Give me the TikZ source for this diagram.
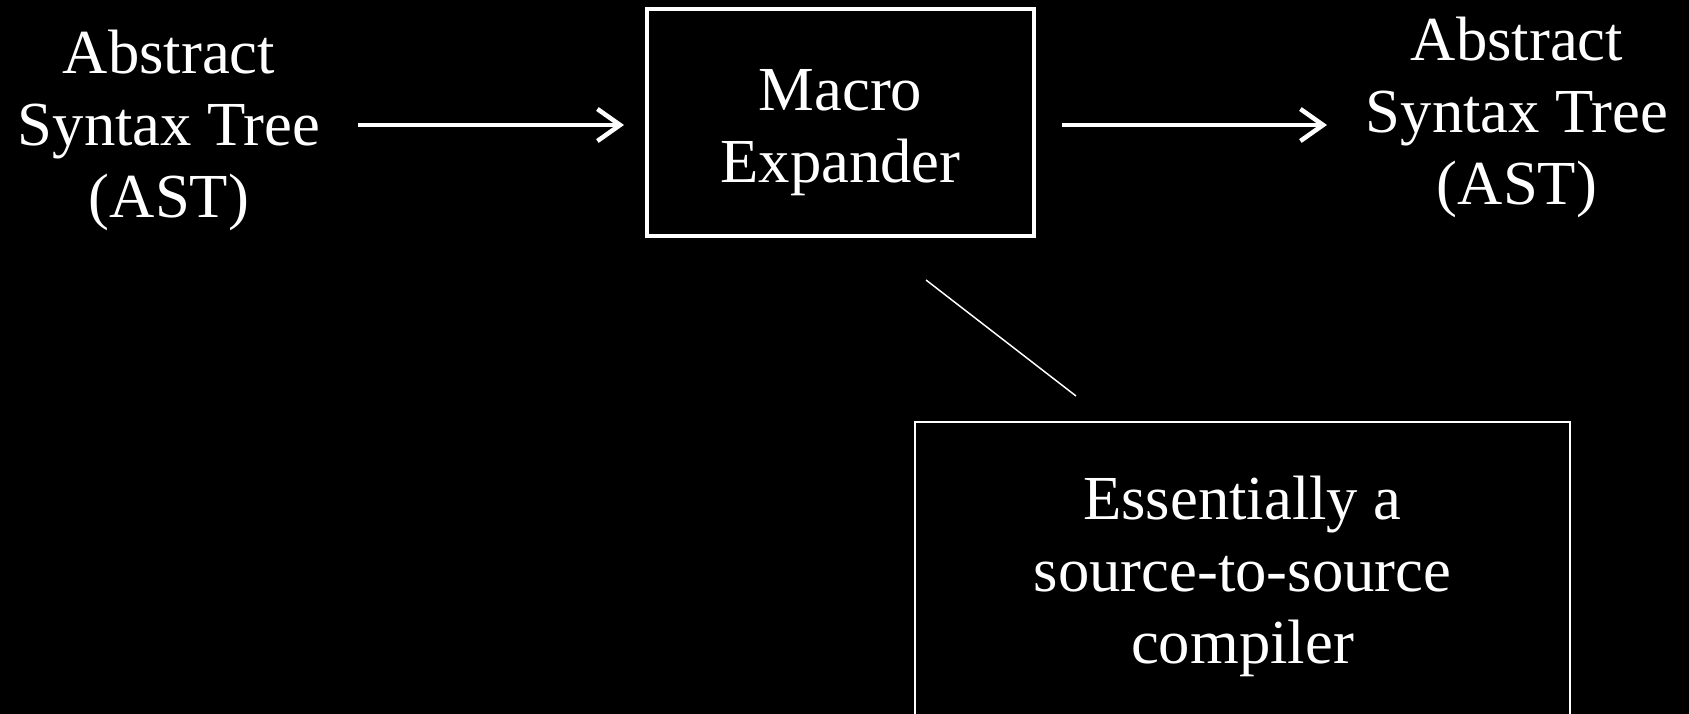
\documentclass[tikz,border=0pt]{standalone}
\usepackage{fontspec}
\setmainfont{Liberation Serif}
\usetikzlibrary{arrows.meta}
\tikzset{
  txt/.style={text=white, align=center, font=\fontsize{47}{54}\selectfont, inner sep=0pt},
  mainbox/.style={draw=white, line width=3pt, minimum width=387*0.75pt, minimum height=227*0.75pt, inner sep=0pt},
  notebox/.style={draw=white, line width=1.1pt, minimum width=655*0.75pt, minimum height=308*0.75pt, inner sep=0pt},
  flow/.style={draw=white, line width=3.4pt, -{Straight Barb[length=17pt, width=24pt, line width=3.4pt]}},
  callout/.style={draw=white, line width=1.1pt}
}
\begin{document}
\begin{tikzpicture}[x=0.75pt,y=-0.75pt]
\useasboundingbox (0,0) rectangle (1689,714);
\fill[black] (0,0) rectangle (1689,714);
\clip (0,0) rectangle (1689,714);
\node[mainbox] (macro) at (840.5,122.5) {};
\node[txt] (macrotxt) at (840.5,132.5) {Macro\\Expander};
\node[txt] (astin) at (169,130) {Abstract\\Syntax Tree\\(AST)};
\node[txt] (astout) at (1517,117) {Abstract\\Syntax Tree\\(AST)};
\node[notebox, txt] (note) at (1242.5,576) {Essentially a\\source-to-source\\compiler};
\coordinate (a1s) at (358,125);
\coordinate (a1e) at (624,125);
\coordinate (a2s) at (1062,125);
\coordinate (a2e) at (1327,125);
\coordinate (cs) at (926,280);
\coordinate (ce) at (1076,396);
\draw[flow] (a1s) -- (a1e);
\draw[flow] (a2s) -- (a2e);
\draw[callout] (cs) -- (ce);
\end{tikzpicture}
\end{document}
